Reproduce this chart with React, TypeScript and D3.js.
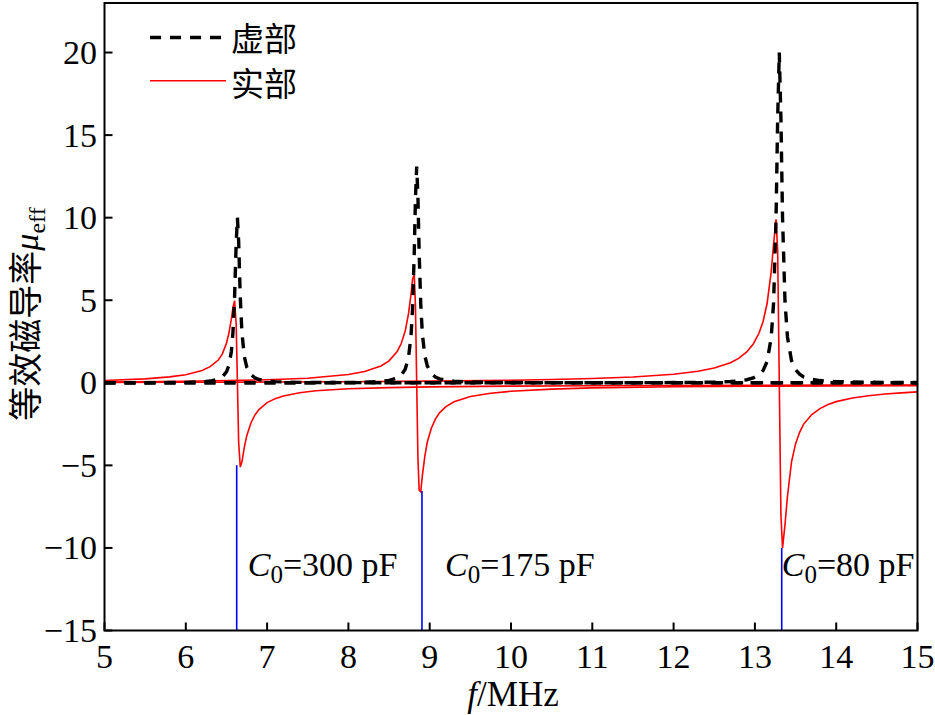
import React from "react";
import * as d3 from "d3";

// ---- data ----
const freqA = [5, 5.5, 5.8, 6.0, 6.2, 6.3, 6.4, 6.45, 6.5, 6.53, 6.56, 6.58, 6.6, 6.62, 6.635, 6.65, 6.67, 6.69, 6.72, 6.75, 6.8, 6.85, 6.9, 7.0, 7.1, 7.2, 7.4, 7.6, 8.0, 8.5, 9, 10, 11, 12, 13, 14, 15];
const realA = [0.14, 0.24, 0.36, 0.49, 0.75, 0.98, 1.38, 1.75, 2.4, 3.0, 3.85, 4.55, 4.98, 3.5, 0, -3.6, -5.1, -4.8, -3.9, -3.2, -2.45, -1.95, -1.62, -1.2, -0.96, -0.8, -0.6, -0.48, -0.36, -0.29, -0.245, -0.2, -0.175, -0.16, -0.15, -0.143, -0.137];
const imagA = [0.003, 0.007, 0.015, 0.027, 0.061, 0.106, 0.22, 0.355, 0.66, 1.05, 1.88, 3.06, 5.2, 8.5, 10.0, 8.56, 5.2, 3.06, 1.58, 0.95, 0.49, 0.3, 0.2, 0.11, 0.07, 0.05, 0.028, 0.019, 0.01, 0.006, 0.004, 0.002, 0.001, 0.001, 0.001, 0.0005, 0.0005];

const freqB = [5, 6, 7, 7.5, 8, 8.2, 8.4, 8.5, 8.6, 8.65, 8.7, 8.74, 8.77, 8.79, 8.81, 8.825, 8.84, 8.855, 8.87, 8.89, 8.91, 8.94, 8.97, 9.02, 9.07, 9.12, 9.2, 9.3, 9.5, 9.75, 10, 10.5, 11, 12, 13, 14, 15];
const realB = [0.052, 0.094, 0.185, 0.28, 0.5, 0.68, 1.02, 1.33, 1.9, 2.38, 3.16, 4.2, 5.35, 6.3, 6.55, 4.6, 0, -4.5, -6.5, -6.6, -5.6, -4.45, -3.6, -2.75, -2.2, -1.82, -1.44, -1.15, -0.83, -0.63, -0.51, -0.38, -0.31, -0.24, -0.205, -0.183, -0.169];
const imagB = [0.0004, 0.001, 0.003, 0.007, 0.021, 0.038, 0.084, 0.144, 0.29, 0.46, 0.84, 1.56, 2.82, 4.57, 7.9, 11.2, 13.1, 11.3, 7.96, 4.75, 2.94, 1.64, 1.03, 0.56, 0.35, 0.24, 0.15, 0.095, 0.048, 0.027, 0.017, 0.009, 0.006, 0.003, 0.002, 0.001, 0.001];

const freqC = [5, 6, 7, 8, 9, 10, 10.5, 11, 11.5, 12, 12.3, 12.5, 12.7, 12.8, 12.9, 12.98, 13.05, 13.1, 13.15, 13.2, 13.23, 13.26, 13.28, 13.3, 13.32, 13.34, 13.37, 13.4, 13.45, 13.5, 13.55, 13.6, 13.7, 13.8, 13.9, 14, 14.2, 14.4, 14.6, 14.8, 15];
const realC = [0.02, 0.031, 0.046, 0.068, 0.1, 0.156, 0.2, 0.26, 0.355, 0.52, 0.7, 0.9, 1.22, 1.48, 1.87, 2.35, 3.0, 3.7, 4.8, 6.7, 8.4, 9.9, 8.0, 0, -8.0, -10.0, -8.6, -6.9, -4.8, -3.7, -3.0, -2.5, -1.92, -1.56, -1.32, -1.14, -0.92, -0.78, -0.68, -0.61, -0.55];
const imagC = [0, 0, 0, 0, 0.001, 0.002, 0.0025, 0.004, 0.007, 0.015, 0.027, 0.044, 0.08, 0.117, 0.185, 0.29, 0.48, 0.74, 1.29, 2.71, 4.85, 9.95, 16.0, 20.0, 16.0, 10.0, 4.94, 2.79, 1.35, 0.79, 0.52, 0.36, 0.21, 0.136, 0.096, 0.072, 0.045, 0.031, 0.023, 0.018, 0.014];

const xTicks = [5, 6, 7, 8, 9, 10, 11, 12, 13, 14, 15];
const yTicks = [-15, -10, -5, 0, 5, 10, 15, 20];
const markerFreqs = [6.626, 8.905, 13.33];
const markerTops = [-5.0, -6.55, -10.0];
const markerCap = ["300", "175", "80"];
const legendLabels = ["虚部", "实部"];

const SERIF = "'Liberation Serif', 'Times New Roman', serif";
const CJK = "'Noto Sans CJK SC', sans-serif";

export default function App() {
  const W = 935, H = 715;
  const left = 104.5, right = 917.5, top = 3, bottom = 630.5;
  const x = d3.scaleLinear().domain([5, 15]).range([left, right]);
  const y = d3.scaleLinear().domain([-15, 23]).range([bottom, top]);

  const line = d3.line<[number, number]>().x(d => x(d[0])).y(d => y(d[1])).curve(d3.curveLinear);
  const zip = (f: number[], v: number[]) => f.map((ff, i) => [ff, v[i]] as [number, number]);

  const realSeries = [zip(freqA, realA), zip(freqB, realB), zip(freqC, realC)];
  const imagSeries = [zip(freqA, imagA), zip(freqB, imagB), zip(freqC, imagC)];
  const labelDx = [11, 23, 0];

  return (
    <svg width={W} height={H} style={{ position: "absolute", left: 0, top: 0, background: "#fff" }}>
      <defs>
        <clipPath id="plot">
          <rect x={left} y={top} width={right - left} height={bottom - top} />
        </clipPath>
      </defs>
      <rect x={0} y={0} width={W} height={H} fill="#fff" />
      <g clipPath="url(#plot)">
        {realSeries.map((s, i) => (
          <path key={"r" + i} d={line(s) || ""} fill="none" stroke="#ff0000" strokeWidth={1.6} />
        ))}
        {imagSeries.map((s, i) => (
          <path key={"i" + i} d={line(s) || ""} fill="none" stroke="#000" strokeWidth={3.4} strokeDasharray="11,9" />
        ))}
        {markerFreqs.map((f, i) => (
          <line key={"m" + i} x1={x(f)} x2={x(f)} y1={y(markerTops[i])} y2={bottom} stroke="#0000ff" strokeWidth={1.6} />
        ))}
      </g>
      {/* frame */}
      <rect x={left} y={top} width={right - left} height={bottom - top} fill="none" stroke="#000" strokeWidth={2} />
      {/* y ticks */}
      {yTicks.map(t => (
        <g key={"yt" + t}>
          <line x1={left} x2={left + 8} y1={y(t)} y2={y(t)} stroke="#000" strokeWidth={2} />
          <text x={97} y={y(t)} textAnchor="end" dominantBaseline="central" fontFamily={SERIF} fontSize={34}>
            {t < 0 ? "\u2212" + Math.abs(t) : String(t)}
          </text>
        </g>
      ))}
      {/* x ticks */}
      {xTicks.map(t => (
        <g key={"xt" + t}>
          <line x1={x(t)} x2={x(t)} y1={bottom} y2={bottom - 8} stroke="#000" strokeWidth={2} />
          <text x={x(t)} y={668} textAnchor="middle" fontFamily={SERIF} fontSize={34}>
            {String(t)}
          </text>
        </g>
      ))}
      {/* axis titles */}
      <text x={513} y={706} textAnchor="middle" fontFamily={SERIF} fontSize={35}>
        <tspan fontStyle="italic">f</tspan>/MHz
      </text>
      <g transform="translate(38,314) rotate(-90)">
        <text x={0} y={0} textAnchor="middle">
          <tspan fontFamily={CJK} fontSize={34}>等效磁导率</tspan>
          <tspan fontFamily={SERIF} fontStyle="italic" fontSize={34}>μ</tspan>
          <tspan fontFamily={SERIF} fontSize={24} dy={7}>eff</tspan>
        </text>
      </g>
      {/* legend */}
      <line x1={150} x2={221} y1={37.5} y2={37.5} stroke="#000" strokeWidth={3.4} strokeDasharray="11,9" />
      <text x={231} y={37} dominantBaseline="central" fontFamily={CJK} fontSize={33}>{legendLabels[0]}</text>
      <line x1={150} x2={226} y1={80.7} y2={80.7} stroke="#ff0000" strokeWidth={1.6} />
      <text x={231} y={82} dominantBaseline="central" fontFamily={CJK} fontSize={33}>{legendLabels[1]}</text>
      {/* annotations */}
      {markerFreqs.map((f, i) => (
        <text key={"a" + i} x={x(f) + labelDx[i]} y={576} fontFamily={SERIF} fontSize={34}>
          <tspan fontStyle="italic">C</tspan>
          <tspan fontSize={25} dy={7}>0</tspan>
          <tspan dy={-7}>={markerCap[i]} pF</tspan>
        </text>
      ))}
    </svg>
  );
}
